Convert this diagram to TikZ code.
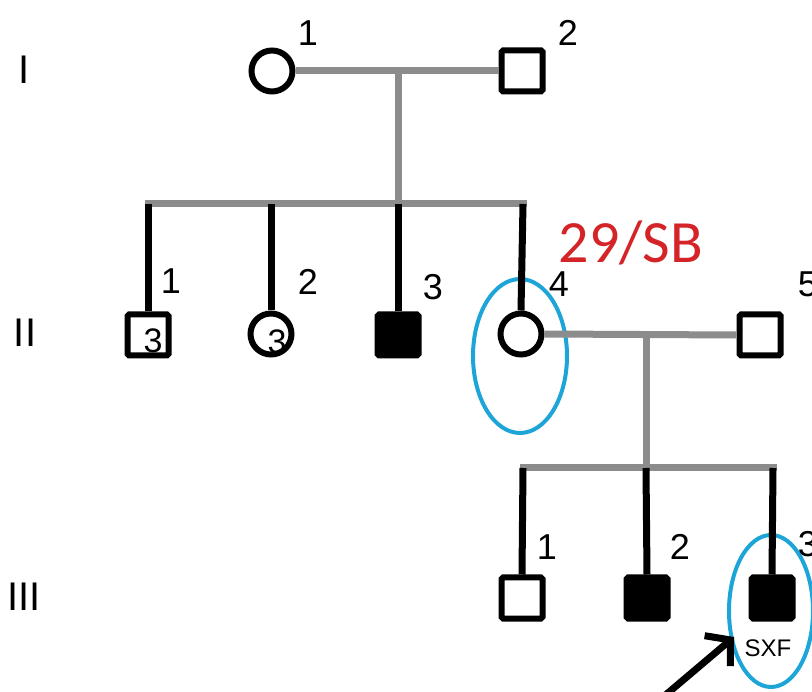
\documentclass[tikz,border=0pt]{standalone}
\usepackage{fontspec}
\setmainfont{Liberation Sans}
\newfontfamily\calib{Carlito}
\usetikzlibrary{arrows.meta}
\definecolor{pgray}{RGB}{140,140,140}
\definecolor{pblue}{RGB}{30,165,215}
\definecolor{pred}{RGB}{212,36,40}
\begin{document}
\begin{tikzpicture}[x=1pt,y=-1pt,
  male/.style={draw=black,line width=6pt,minimum size=41pt,inner sep=0pt,rounded corners=1.5pt,fill=white},
  female/.style={circle,draw=black,line width=6pt,minimum size=41pt,inner sep=0pt,fill=white},
  aff/.style={fill=black},
  mline/.style={draw=pgray,line width=7pt},
  dline/.style={draw=black,line width=7pt},
  num/.style={font=\fontsize{36}{36}\selectfont,inner sep=0pt},
  gen/.style={font=\fontsize{40}{40}\selectfont,inner sep=0pt},
  mark3/.style={font=\fontsize{34}{34}\selectfont,inner sep=0pt},
  proband/.style={draw=pblue,line width=4pt},
  arr/.style={draw=black,line width=7pt,-{Straight Barb[length=17pt,width=40pt]}}
]
\useasboundingbox (0,0) rectangle (812,692);
\clip (0,0) rectangle (812,692);

% generation labels
\node[gen] (gI) at (24,70) {I};
\node[gen] (gII) at (25,333) {II};
\node[gen] (gIII) at (24,597) {III};

% proband / highlight ellipses
\draw[proband] (520,356) ellipse [x radius=47, y radius=77];
\draw[proband] (771,611) ellipse [x radius=42, y radius=76];

% generation I
\node[female] (i1) at (272,71) {};
\node[male] (i2) at (522,71) {};
\coordinate (m1) at (398,71);
\coordinate (s1) at (398,204);
\coordinate (s1l) at (148,204);
\coordinate (s1r) at (523,204);

% generation II
\node[male] (ii1) at (148,335) {};
\node[female] (ii2) at (271,334) {};
\node[male,aff] (ii3) at (398,335) {};
\node[female] (ii4) at (521,334) {};
\node[male] (ii5) at (760,335) {};
\coordinate (m2) at (646,335);
\coordinate (s2) at (646,468);
\coordinate (s2l) at (523,468);
\coordinate (s2r) at (773,468);

% generation III
\node[male] (iii1) at (522,598) {};
\node[male,aff] (iii2) at (647,598) {};
\node[male,aff] (iii3) at (772,598) {};

% connectors gen I -> II
\draw[mline] (i1.east) -- (i2.west);
\draw[mline] (m1) -- (s1);
\draw[mline] ([xshift=-3.5pt]s1l) -- ([xshift=3.5pt]s1r);
\draw[dline] (s1l) -- (ii1.north);
\draw[dline] (s1l -| ii2) -- (ii2.north);
\draw[dline] (s1) -- (ii3.north);
\draw[dline] (s1r) -- (ii4.north);

% connectors gen II -> III
\draw[mline] (ii4.east) -- (ii5.west);
\draw[mline] (m2) -- (s2);
\draw[mline] ([xshift=-3.5pt]s2l) -- ([xshift=3.5pt]s2r);
\draw[dline] (s2l) -- (iii1.north);
\draw[dline] (s2) -- (iii2.north);
\draw[dline] (s2r) -- (iii3.north);

% numbers
\node[num] (n11) at (308,33) {1};
\node[num] (n12) at (568,33) {2};
\node[num] (n21) at (171,281) {1};
\node[num] (n22) at (308,282) {2};
\node[num] (n23) at (433,287) {3};
\node[num] (n24) at (559,284) {4};
\node[num] (n25) at (808,284) {5};
\node[num] (n31) at (547,547) {1};
\node[num] (n32) at (680,547) {2};
\node[num] (n33) at (808,544) {3};

% inner marks
\node[mark3] (in1) at (153,341) {3};
\node[mark3] (in2) at (277,342) {3};

% annotations
\node[inner sep=0pt,text=pred,font=\calib\fontsize{60}{60}\selectfont] (age) at (631,243) {29/SB};
\node[inner sep=0pt,font=\fontsize{24}{24}\selectfont] (sxf) at (768,648) {SXF};

% proband arrow
\coordinate (atail) at (662,698);
\coordinate (ahead) at (734,637);
\draw[arr] (atail) -- (ahead);
\end{tikzpicture}
\end{document}
